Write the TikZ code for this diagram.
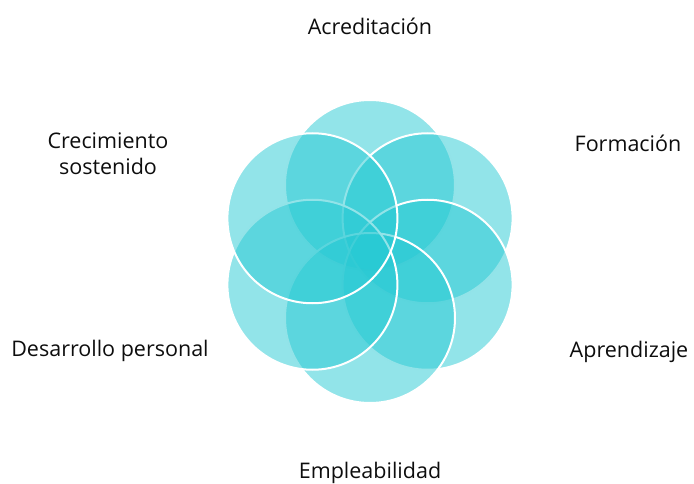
\documentclass[tikz,border=0pt]{standalone}
\usepackage{fontspec}
\setmainfont{Open Sans}
\usetikzlibrary{calc}
\definecolor{petal}{RGB}{38,201,211}
\begin{document}
\begin{tikzpicture}[x=1pt,y=-1pt,
  petalc/.style={circle,minimum size=170pt,inner sep=0pt,fill=petal,fill opacity=0.5,draw=white,draw opacity=1,line width=2pt},
  lbl/.style={font=\fontsize{21.5}{27}\selectfont,text=black!95,anchor=base,inner sep=0pt,align=center}]
\useasboundingbox (0,0) rectangle (694,484);
\coordinate (c) at (370,251.5);
\foreach \n/\a in {p1/90,p2/30,p3/-30,p4/-90,p5/-150,p6/150}{
  \node[petalc] (\n) at ($(c)+(\a:66.5pt)$) {};
}
\node[lbl] (acr) at (370,35) {Acreditación};
\node[lbl] (cre) at (108,149) {Crecimiento};
\node[lbl] (sos) at (108,175) {sostenido};
\node[lbl] (for) at (628,152) {Formación};
\node[lbl] (des) at (110,356) {Desarrollo personal};
\node[lbl] (apr) at (629,357) {Aprendizaje};
\node[lbl] (emp) at (370,478) {Empleabilidad};
\end{tikzpicture}
\end{document}
